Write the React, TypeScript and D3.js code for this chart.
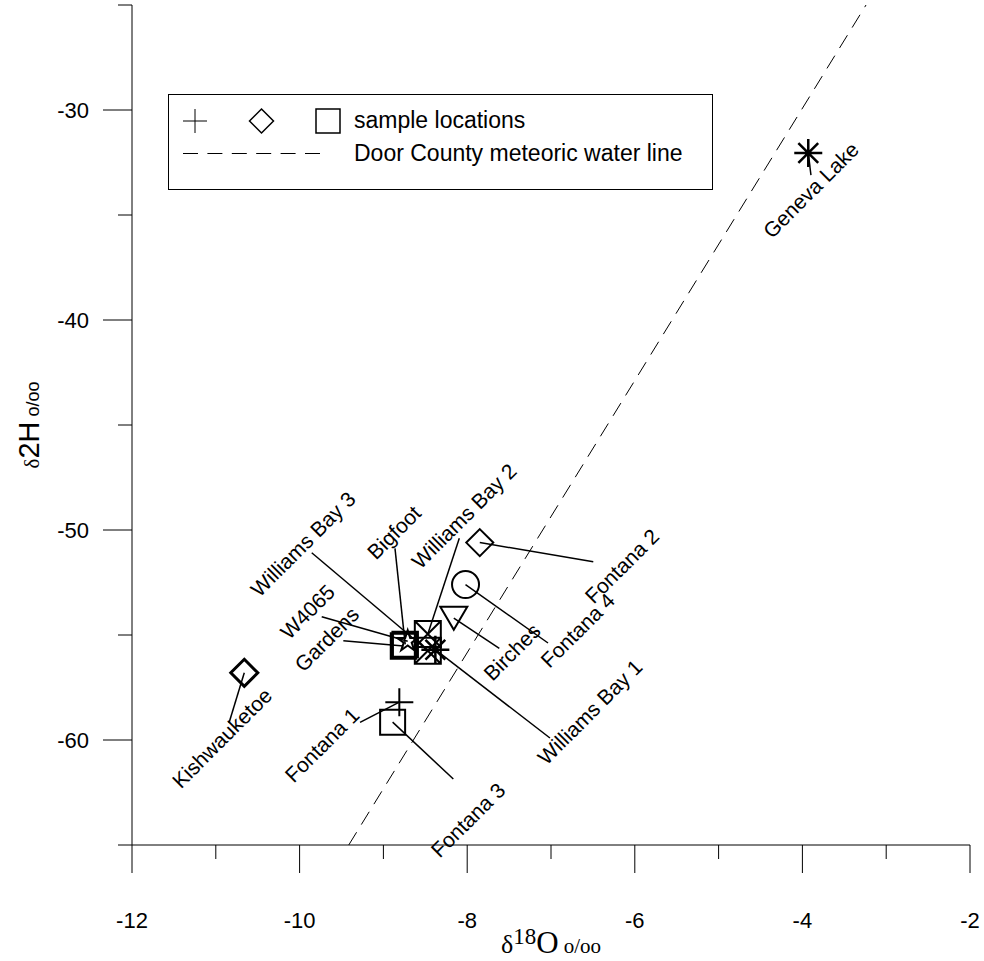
import React from "react";
import * as d3 from "d3";

const W = 984;
const H = 961;

// ---- data ----
const sampleNames = [
  "Geneva Lake", "Kishwauketoe", "Fontana 2", "Fontana 4", "Birches",
  "Fontana 1", "Fontana 3", "Gardens", "Bigfoot", "W4065",
  "Williams Bay 3", "Williams Bay 2", "Williams Bay 1",
];
const d18O = [-3.93, -10.66, -7.85, -8.02, -8.16, -8.81, -8.89, -8.76, -8.74, -8.71, -8.47, -8.47, -8.38];
const d2H = [-32.05, -56.8, -50.6, -52.6, -54.2, -58.2, -59.15, -55.52, -55.45, -55.3, -55.75, -54.95, -55.7];
const symbolTypes = [
  "asterisk", "diamond", "diamond", "circle", "triangleDown",
  "plus", "square", "square", "square", "star",
  "squareX", "squareX", "asterisk",
];

const xDomain = [-12, -2];
const yDomain = [-65, -25];
const xMajorTicks = [-12, -10, -8, -6, -4, -2];
const xMinorTicks = [-11, -9, -7, -5, -3];
const yMajorTicks = [-30, -40, -50, -60];
const yMinorTicks = [-25, -35, -45, -55, -65];

// Door County meteoric water line: d2H = slope * d18O + intercept
const mwlSlope = 6.48;
const mwlIntercept = -4.0;

const legendSymbolTypes = ["plus", "diamond", "square"];
const legendTexts = ["sample locations", "Door County meteoric water line"];

// ---- layout (pixel offsets of labels/leaders relative to their point) ----
const labelDx = [2.7, -22.3, 142.2, 112.2, 58.2, -77.3, 75.4, -76.8, -11.2, -100.2, -124.8, 36.2, 154.6];
const labelDy = [37, 65.2, 23.4, 45.7, 33.8, 42.8, 97.85, -6.7, -111.95, -29.6, -106.75, -117.95, 62.3];
const leaderDx = [2.7, -15.3, 113.5, 82.5, 45.5, -39.3, 60.7, -60.2, -10.2, -86, -116.1, 31.5, 114.6];
const leaderDy = [22, 50.2, 19.1, 58.4, 30.1, 20.1, 56.85, -5.2, -96.15, -24.6, -98.05, -95.65, 88.3];
const markerStroke = [2.5, 3, 2, 2, 2, 2, 2, 2.5, 2.5, 2, 2, 2, 2.5];

function markerPath(type: string): string {
  switch (type) {
    case "square": {
      const s = 12.5;
      return `M${-s},${-s}H${s}V${s}H${-s}Z`;
    }
    case "squareX": {
      const s = 13;
      return `M${-s},${-s}H${s}V${s}H${-s}Z M${-s},${-s}L${s},${s} M${s},${-s}L${-s},${s}`;
    }
    case "diamond": {
      const s = 13.5;
      return `M0,${-s}L${s},0L0,${s}L${-s},0Z`;
    }
    case "plus": {
      const s = 14;
      return `M${-s},0H${s}M0,${-s}V${s}`;
    }
    case "asterisk": {
      const s = 14;
      const d = s * Math.SQRT1_2;
      return `M${-s},0H${s}M0,${-s}V${s}M${-d},${-d}L${d},${d}M${d},${-d}L${-d},${d}`;
    }
    case "triangleDown": {
      const w = 13.5, h = 11.5;
      return `M${-w},${-h}L${w},${-h}L0,${h}Z`;
    }
    case "circle": {
      return d3.symbol(d3.symbolCircle, Math.PI * 13.5 * 13.5)() as string;
    }
    case "star": {
      return d3.symbol(d3.symbolStar, 136)() as string;
    }
  }
  return "";
}

function legendPath(type: string): string {
  switch (type) {
    case "plus":
      return "M-12,0H12M0,-12V12";
    case "diamond":
      return "M0,-12L12,0L0,12L-12,0Z";
    case "square":
      return "M-12,-12H12V12H-12Z";
  }
  return "";
}

export default function App() {
  const x = d3.scaleLinear().domain(xDomain).range([132, 970]);
  const y = d3.scaleLinear().domain(yDomain).range([845, 5]);

  const mwlX = yDomain.map((v) => (v - mwlIntercept) / mwlSlope);
  const mwlLine = d3
    .line<number>()
    .x((v) => x(v))
    .y((v) => y(mwlSlope * v + mwlIntercept))(mwlX) as string;

  const font = "'Liberation Sans', Arial, sans-serif";
  const serif = "'Liberation Serif', 'Times New Roman', serif";

  return (
    <svg
      width={W}
      height={H}
      style={{ position: "absolute", left: 0, top: 0, background: "#fff" }}
      fontFamily={font}
    >
      <rect width={W} height={H} fill="#fff" />

      {/* meteoric water line */}
      <path d={mwlLine} fill="none" stroke="#000" strokeWidth={1} strokeDasharray="15,9" />

      {/* axes */}
      <line x1={x(xDomain[0])} x2={x(xDomain[1])} y1={y(yDomain[0])} y2={y(yDomain[0])} stroke="#000" strokeWidth={1} />
      <line x1={x(xDomain[0])} x2={x(xDomain[0])} y1={y(yDomain[0])} y2={y(yDomain[1])} stroke="#000" strokeWidth={1} />
      {xMajorTicks.map((t) => (
        <g key={"xM" + t}>
          <line x1={x(t)} x2={x(t)} y1={y(yDomain[0])} y2={y(yDomain[0]) + 28} stroke="#000" />
          <text x={x(t)} y={y(yDomain[0]) + 83} textAnchor="middle" fontSize={22}>
            {t}
          </text>
        </g>
      ))}
      {xMinorTicks.map((t) => (
        <line key={"xm" + t} x1={x(t)} x2={x(t)} y1={y(yDomain[0])} y2={y(yDomain[0]) + 14} stroke="#000" />
      ))}
      {yMajorTicks.map((t) => (
        <g key={"yM" + t}>
          <line x1={x(xDomain[0]) - 29} x2={x(xDomain[0])} y1={y(t)} y2={y(t)} stroke="#000" />
          <text x={x(xDomain[0]) - 43} y={y(t)} dy="0.36em" textAnchor="end" fontSize={22}>
            {t}
          </text>
        </g>
      ))}
      {yMinorTicks.map((t) => (
        <line key={"ym" + t} x1={x(xDomain[0]) - 14} x2={x(xDomain[0])} y1={y(t)} y2={y(t)} stroke="#000" />
      ))}

      {/* axis titles */}
      <text x={(x(xDomain[0]) + x(xDomain[1])) / 2} y={953} textAnchor="middle" fontFamily={serif}>
        <tspan fontSize={26}>δ</tspan>
        <tspan fontSize={23} dy={-9}>18</tspan>
        <tspan fontSize={31} dy={9}>O</tspan>
        <tspan fontSize={21}> o/oo</tspan>
      </text>
      <text transform={`translate(39,${(y(yDomain[0]) + y(yDomain[1])) / 2}) rotate(-90)`} textAnchor="middle">
        <tspan fontSize={21} fontFamily={serif}>δ</tspan>
        <tspan fontSize={29}>2H</tspan>
        <tspan fontSize={18}> o/oo</tspan>
      </text>

      {/* leaders */}
      {sampleNames.map((n, i) => {
        const px = x(d18O[i]);
        const py = y(d2H[i]);
        return (
          <line key={"ld" + n} x1={px} y1={py} x2={px + leaderDx[i]} y2={py + leaderDy[i]} stroke="#000" strokeWidth={1.5} />
        );
      })}

      {/* markers */}
      {sampleNames.map((n, i) => (
        <path
          key={"mk" + n}
          d={markerPath(symbolTypes[i])}
          transform={`translate(${x(d18O[i])},${y(d2H[i])})`}
          fill="none"
          stroke="#000"
          strokeWidth={markerStroke[i]}
          strokeLinejoin="miter"
        />
      ))}

      {/* labels */}
      {sampleNames.map((n, i) => {
        const lx = x(d18O[i]) + labelDx[i];
        const ly = y(d2H[i]) + labelDy[i];
        return (
          <text
            key={"lb" + n}
            transform={`translate(${lx},${ly}) rotate(-45)`}
            textAnchor="middle"
            dy="0.35em"
            fontSize={21}
          >
            {n}
          </text>
        );
      })}

      {/* legend */}
      <rect x={168.5} y={94.5} width={544} height={95} fill="#fff" stroke="#000" strokeWidth={1} />
      {legendSymbolTypes.map((t, i) => (
        <path
          key={"lg" + t}
          d={legendPath(t)}
          transform={`translate(${195 + i * 66.5},121)`}
          fill="none"
          stroke="#000"
          strokeWidth={i === 0 ? 1 : 1.5}
        />
      ))}
      <text x={354} y={128} fontSize={23}>{legendTexts[0]}</text>
      <line x1={183} x2={320} y1={153.5} y2={153.5} stroke="#000" strokeWidth={1} strokeDasharray="15,9.4" />
      <text x={354} y={161} fontSize={23}>{legendTexts[1]}</text>
    </svg>
  );
}
